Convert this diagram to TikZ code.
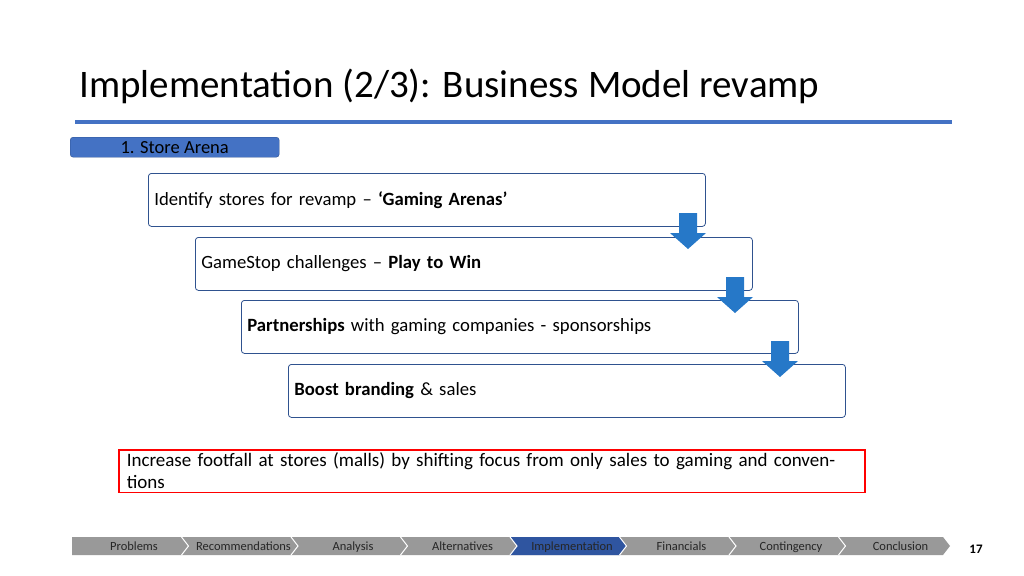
\documentclass[tikz,border=0pt]{standalone}
\usepackage{fontspec}
\setmainfont{Carlito}
\begin{document}
\begin{tikzpicture}[x=1pt,y=-1pt,
  stepbox/.style={draw={rgb,255:red,47;green,82;blue,143}, rounded corners=3pt, line width=0.8pt, minimum width=557pt, minimum height=53pt, anchor=north west, text width=545pt, align=left, font=\fontsize{18.7}{22}\selectfont},
  nav/.style={font=\fontsize{12.5}{13}\selectfont, text=black!85, anchor=base}]
\useasboundingbox (0,0) rectangle (1024,575);
\node[anchor=base west, font=\fontsize{39}{44}\selectfont] (title) at (76,98) {Implementation (2/3): Business Model revamp};
\draw[line width=4pt, color={rgb,255:red,68;green,114;blue,196}] (75,122) -- (952,122);
\node[fill={rgb,255:red,68;green,114;blue,196}, draw={rgb,255:red,47;green,82;blue,143}, rounded corners=3pt, minimum width=209pt, minimum height=20pt, anchor=north west, font=\fontsize{18.5}{20}\selectfont, text=black] (tag) at (70,137) {1. Store Arena};
\node[stepbox] (s1) at (148,173) {Identify stores for revamp -- \textbf{‘Gaming Arenas’}};
\node[stepbox] (s2) at (195,237) {GameStop challenges -- \textbf{Play to Win}};
\node[stepbox] (s3) at (241,300) {\textbf{Partnerships} with gaming companies - sponsorships};
\node[stepbox] (s4) at (288,364) {\textbf{Boost branding} \& sales};
\foreach \x/\y in {688/213, 735/277, 780/341}{
  \fill[color={rgb,255:red,38;green,120;blue,200}] (\x-9,\y) -- (\x+9,\y) -- (\x+9,\y+20) -- (\x+18,\y+20) -- (\x,\y+36) -- (\x-18,\y+20) -- (\x-9,\y+20) -- cycle;
}
\node[draw=red, line width=1.5pt, minimum width=746pt, minimum height=31pt, anchor=north west, text width=730pt, align=left, font=\fontsize{19}{22}\selectfont] (goal) at (118,449) {Increase footfall at stores (malls) by shifting focus from only sales to gaming and conventions};
\fill[gray!80] (72,537) -- (943,537) -- (950,546) -- (943,555) -- (72,555) -- cycle;
\foreach \i/\t in {0/Problems,1/Recommendations,2/Analysis,3/Alternatives,4/Implementation,5/Financials,6/Contingency,7/Conclusion}{
  \pgfmathsetmacro{\a}{72+\i*109.5}
  \ifnum\i=4
    \fill[color={rgb,255:red,47;green,85;blue,160}] (\a,537) -- (\a+109.5,537) -- (\a+116.5,546) -- (\a+109.5,555) -- (\a,555) -- (\a+7,546) -- cycle;
  \fi
  \node[nav] (n\i) at (\a+62,550) {\t};
  \ifnum\i>0 \draw[white, line width=1pt] (\a,537) -- (\a+7,546) -- (\a,555); \fi
}
\node[font=\bfseries\fontsize{13}{14}\selectfont] (pg) at (976,549) {17};
\end{tikzpicture}
\end{document}
